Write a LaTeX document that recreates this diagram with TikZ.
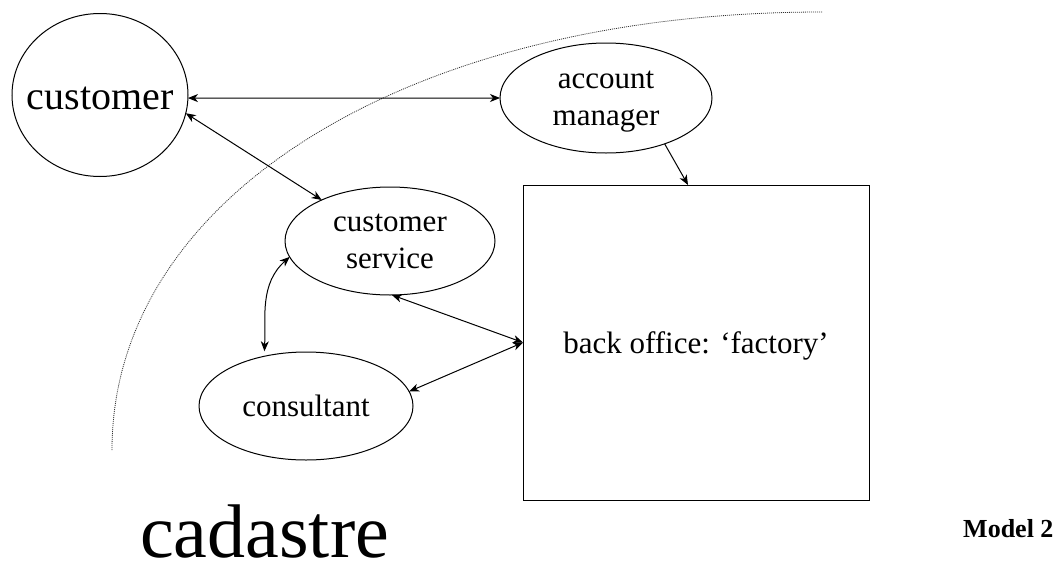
\documentclass[tikz,border=0pt]{standalone}
\usepackage{fontspec}
\setmainfont{Liberation Serif}
\usetikzlibrary{arrows.meta,calc,shapes.geometric}
\begin{document}
\begin{tikzpicture}[x=1pt,y=-1pt,
  bubble/.style={draw,ellipse,line width=1pt,inner sep=0pt,outer sep=0pt,align=center,
    font=\fontsize{31}{37}\selectfont},
  lbl/.style={inner sep=0pt,outer sep=0pt,align=center,font=\fontsize{31}{37}\selectfont},
  boxnode/.style={draw,rectangle,line width=1pt,inner sep=0pt,outer sep=0pt,
    font=\fontsize{31}{37}\selectfont},
  tip/.style={Stealth[length=10pt,width=8pt,inset=3pt]},
  link/.style={line width=1pt,{Stealth[length=10pt,width=8pt,inset=3pt]}-{Stealth[length=10pt,width=8pt,inset=3pt]}},
  onelink/.style={line width=1pt,-{Stealth[length=10pt,width=8pt,inset=3pt]}},
  boundary/.style={line width=0.8pt,dash pattern=on 1pt off 1pt,black!80}
]
\useasboundingbox (0,0) rectangle (1059,565);

% boundary arc
\draw[boundary] (112,450) .. controls (112,196) and (410,12) .. (822,12);

\node[bubble,minimum width=176pt,minimum height=163pt] (cust) at (100,95) {};
\node[lbl,font=\fontsize{40}{48}\selectfont] (custtext) at (100,98.5) {customer};
\node[bubble,minimum width=212pt,minimum height=110pt] (am) at (606,98) {};
\node[lbl] (amtext) at (606,101.5) {account\\manager};
\node[bubble,minimum width=210pt,minimum height=108pt] (cs) at (390,241) {customer\\service};
\node[bubble,minimum width=214pt,minimum height=108pt] (cons) at (306,406) {consultant};
\node[boxnode,minimum width=346pt,minimum height=315pt] (box) at (696,342.5) {};
\node[lbl,anchor=base] (boxtext) at (696,353) {back office: ‘factory’};

\node[anchor=base west,inner sep=0pt,font=\fontsize{76}{84}\selectfont] (cad) at (140,557) {cadastre};
\node[anchor=base west,inner sep=0pt,font=\fontsize{26}{30}\selectfont\bfseries] (model) at (963,537) {Model 2};

% connectors
\draw[link] (cust.-2) -- (am.180);
\draw[link] (cust.-12) -- (cs.149.6);
\draw[link,shorten >=5pt] (cs.189) to[out=222,in=88] (cons.130);
\draw[link] (cs.-88) -- (box.west);
\draw[link] (cons.8.5) -- (box.west);
\draw[onelink] (am.-38.5) -- ($(box.north west)!0.477!(box.north east)$);
\end{tikzpicture}
\end{document}
